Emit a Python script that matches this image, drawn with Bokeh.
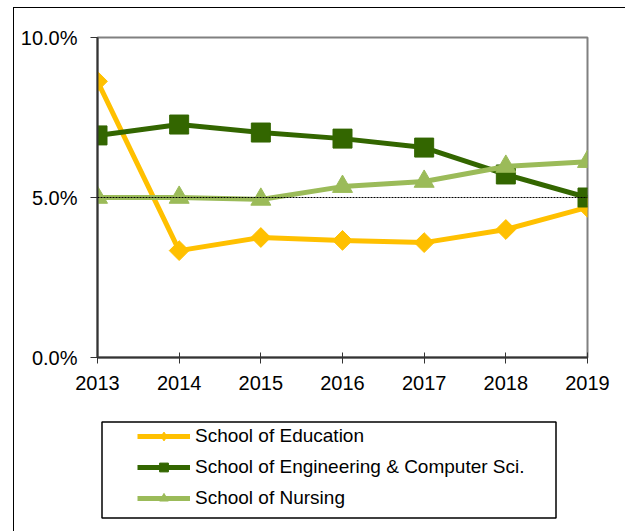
import numpy as np
from bokeh.plotting import figure
from bokeh.layouts import column
from bokeh.models import Legend, LegendItem, NumeralTickFormatter, FixedTicker, BoxAnnotation, Range1d, Span
from bokeh.embed import file_html
from bokeh.resources import INLINE

years = [2013, 2014, 2015, 2016, 2017, 2018, 2019]
education = [0.0863, 0.0334, 0.0375, 0.0366, 0.0359, 0.0400, 0.0469]
engineering = [0.0694, 0.0728, 0.0703, 0.0684, 0.0656, 0.0572, 0.0500]
nursing = [0.0500, 0.0500, 0.0494, 0.0534, 0.0550, 0.0597, 0.0612]
y_ticks = [0.0, 0.05, 0.10]
series_names = ["School of Education", "School of Engineering & Computer Sci.", "School of Nursing"]

FONT = "Liberation Sans"
W = 611
HA, HB = 397, 126
c_edu, c_eng, c_nur = "#FFC000", "#336600", "#9BBB59"

p = figure(width=W, height=HA, output_backend="svg", toolbar_location=None,
           x_range=Range1d(2013, 2019), y_range=Range1d(0, 0.10))
p.min_border_left = 83
p.min_border_right = 38
p.min_border_top = 29
p.min_border_bottom = 48
p.background_fill_color = "white"
p.border_fill_color = "white"
p.outline_line_color = "#808080"
p.outline_line_width = 2

p.xgrid.visible = False
p.ygrid.visible = False
p.add_layout(Span(location=0.05, dimension="width", line_color="black", line_width=1, line_dash="2 1"))

for ax in (p.xaxis, p.yaxis):
    ax.axis_line_color = "#333333"
    ax.axis_line_width = 2
    ax.major_tick_line_color = "#333333"
    ax.major_tick_line_width = 1
    ax.minor_tick_line_color = None
    ax.major_label_text_font = FONT
    ax.major_label_text_font_size = "20px"
    ax.major_label_text_color = "black"

p.xaxis.ticker = FixedTicker(ticks=years)
p.xaxis.major_tick_in = 5
p.xaxis.major_tick_out = 6
p.xaxis.major_label_standoff = 12
p.yaxis.ticker = FixedTicker(ticks=y_ticks)
p.yaxis.formatter = NumeralTickFormatter(format="0.0%")
p.yaxis.major_tick_in = 0
p.yaxis.major_tick_out = 7
p.yaxis.major_label_standoff = 13

p.line(years, education, line_color=c_edu, line_width=5)
p.scatter(years, education, marker="square", angle=np.pi / 4, size=14,
          fill_color=c_edu, line_color=c_edu)
p.line(years, engineering, line_color=c_eng, line_width=5)
p.scatter(years, engineering, marker="square", size=19, fill_color=c_eng, line_color=c_eng)
p.line(years, nursing, line_color=c_nur, line_width=5)
p.scatter(years, nursing, marker="triangle", size=20, fill_color=c_nur, line_color=c_nur)

# Legend panel (its frame is aligned with the chart's frame by the column layout)
q = figure(width=W, height=HB, output_backend="svg", toolbar_location=None,
           x_axis_type=None, y_axis_type=None, x_range=Range1d(0, 1), y_range=Range1d(0, 1))
q.min_border_left = 0
q.min_border_right = 0
q.min_border_top = 0
q.min_border_bottom = 0
q.outline_line_color = None
q.xgrid.visible = False
q.ygrid.visible = False

hidden = dict(x=[-10], y=[-10])
ql1 = q.line(line_color=c_edu, line_width=5, **hidden)
qm1 = q.scatter(marker="diamond", fill_color=c_edu, line_color=c_edu, **hidden)
ql2 = q.line(line_color=c_eng, line_width=5, **hidden)
qm2 = q.scatter(marker="square", fill_color=c_eng, line_color=c_eng, **hidden)
ql3 = q.line(line_color=c_nur, line_width=5, **hidden)
qm3 = q.scatter(marker="triangle", fill_color=c_nur, line_color=c_nur, **hidden)

legend = Legend(items=[
    LegendItem(label=series_names[0], renderers=[ql1, qm1]),
    LegendItem(label=series_names[1], renderers=[ql2, qm2]),
    LegendItem(label=series_names[2], renderers=[ql3, qm3]),
], location=(40, 22))
legend.padding = 0
legend.margin = 0
legend.spacing = 9
legend.glyph_width = 53
legend.glyph_height = 22
legend.label_height = 22
legend.label_standoff = 5
legend.label_text_font = FONT
legend.label_text_font_size = "19px"
legend.label_text_color = "black"
legend.border_line_color = None
legend.background_fill_alpha = 0
q.add_layout(legend, "center")

q.add_layout(BoxAnnotation(left=87.5, right=541.5, top=16.5, bottom=112.5,
                           left_units="canvas", right_units="canvas",
                           top_units="canvas", bottom_units="canvas",
                           fill_alpha=0, line_color="black", line_alpha=1, line_width=1.5))

layout = column(p, q, spacing=0, margin=(7, 0, 0, 13),
                styles={"border-left": "1px solid black", "border-top": "1px solid black"})

open("out.html", "w").write(file_html(layout, INLINE))
